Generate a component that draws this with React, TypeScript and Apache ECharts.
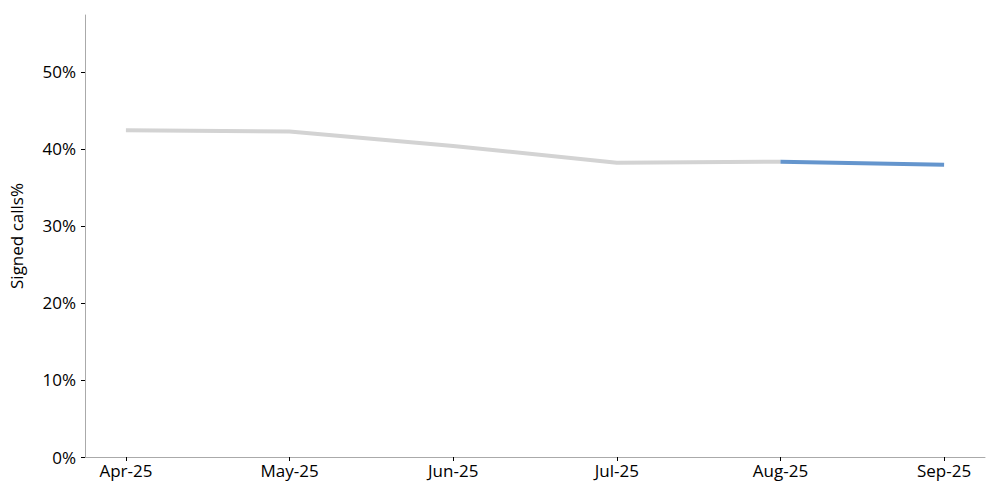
import React, { useEffect, useRef } from "react";
import * as echarts from "echarts";

const months = ["Apr-25", "May-25", "Jun-25", "Jul-25", "Aug-25", "Sep-25"];
const signedPct = [0.4243, 0.4227, 0.404, 0.3822, 0.3835, 0.3796];
const historyCount = 5; // Apr..Aug grey
const recentStart = 4; // Aug..Sep blue
const yTicks = [0, 0.1, 0.2, 0.3, 0.4, 0.5];

export default function App() {
  const ref = useRef<HTMLDivElement>(null);
  useEffect(() => {
    const chart = echarts.init(ref.current!, null, { renderer: "svg" });
    const idx = months.map((_, i) => i);
    const font = "Open Sans";
    const fs = 17;
    chart.setOption({
      animation: false,
      textStyle: { fontFamily: font },
      grid: { left: 85, right: 15, top: 15, bottom: 43, containLabel: false },
      xAxis: {
        type: "value",
        min: -0.25,
        max: 5.25,
        splitLine: { show: false },
        axisLine: { show: true, onZero: false, lineStyle: { color: "#aaaaaa", width: 1 } },
        axisTick: { show: true, customValues: idx, length: 4, lineStyle: { color: "#000" } },
        axisLabel: {
          customValues: idx,
          formatter: (v: number) => months[Math.round(v)] ?? "",
          color: "#000",
          fontSize: fs,
          margin: 5,
          fontFamily: font,
        },
      },
      yAxis: {
        type: "value",
        min: 0,
        max: 0.574,
        name: "Signed calls%",
        nameLocation: "middle",
        nameGap: 60,
        nameTextStyle: { color: "#000", fontSize: fs, fontFamily: font },
        splitLine: { show: false },
        axisLine: { show: true, onZero: false, lineStyle: { color: "#aaaaaa", width: 1 } },
        axisTick: { show: true, customValues: yTicks, length: 4, lineStyle: { color: "#000" } },
        axisLabel: {
          customValues: yTicks,
          formatter: (v: number) => Math.round(v * 100) + "%",
          color: "#000",
          fontSize: fs,
          margin: 9,
          fontFamily: font,
        },
      },
      series: [
        {
          type: "line",
          data: idx.slice(0, historyCount).map((i) => [i, signedPct[i]]),
          showSymbol: false,
          lineStyle: { color: "#d3d3d3", width: 4, cap: "butt" },
          itemStyle: { color: "#d3d3d3" },
        },
        {
          type: "line",
          data: idx.slice(recentStart).map((i) => [i, signedPct[i]]),
          showSymbol: false,
          lineStyle: { color: "#6495cd", width: 4, cap: "butt" },
          itemStyle: { color: "#6495cd" },
        },
      ],
    });
    return () => chart.dispose();
  }, []);
  return <div ref={ref} style={{ width: 1000, height: 500, position: "absolute", left: 0, top: 0 }} />;
}
